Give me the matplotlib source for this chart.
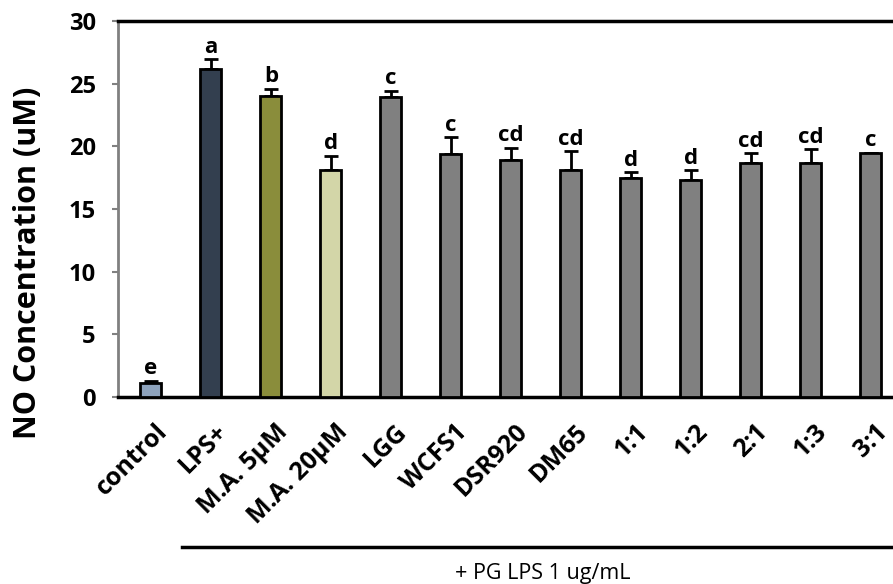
import numpy as np
import matplotlib.pyplot as plt
from matplotlib.transforms import ScaledTranslation

plt.rcParams['font.family'] = ['Open Sans', 'DejaVu Sans']

# data
groups = ["control", "LPS+", "M.A. 5\u03bcM", "M.A. 20\u03bcM", "LGG", "WCFS1", "DSR920",
          "DM65", "1:1", "1:2", "2:1", "1:3", "3:1"]
no_conc = [1.1, 26.15, 24.0, 18.1, 23.9, 19.35, 18.9, 18.1, 17.5, 17.3, 18.65, 18.7, 19.5]
sem = [0.2, 0.8, 0.6, 1.15, 0.55, 1.4, 1.0, 1.5, 0.45, 0.8, 0.8, 1.05, 0.0]
letters = ["e", "a", "b", "d", "c", "c", "cd", "cd", "d", "d", "cd", "cd", "c"]
colors = ["#8ea3bd", "#333f4f", "#8a8d3b", "#d3d6a8"] + ["#808080"] * 9

fig = plt.figure(figsize=(8.93, 5.84), dpi=100)
ax = fig.add_axes([118 / 893, 1 - 397 / 584, 1 - 118 / 893, (397 - 21) / 584])

x = np.arange(len(groups))
ax.bar(x, no_conc, width=0.35, color=colors, edgecolor="black", linewidth=2, zorder=3)
ax.errorbar(x, no_conc, yerr=[np.zeros(len(sem)), sem], fmt="none", ecolor="black",
            elinewidth=2, capsize=5, capthick=2, zorder=2)

for xi, v, s, l in zip(x, no_conc, sem, letters):
    ax.text(xi, v + s + 0.1, l, ha="center", va="bottom", fontsize=16, fontweight="bold")

ax.set_xlim(-0.55, 12.37)
ax.set_ylim(0, 30)
ax.set_yticks(range(0, 31, 5))
ax.tick_params(axis="y", labelsize=17, length=4, width=1.5, color="#808080", pad=12)
for t in ax.get_yticklabels():
    t.set_fontweight("bold")
ax.set_xticks(x)
ax.set_xticklabels(groups, rotation=45, ha="right", rotation_mode="anchor",
                   fontsize=18, fontweight="bold")
ax.tick_params(axis="x", length=0, pad=16)
shift = ScaledTranslation(0.04, 0, fig.dpi_scale_trans)
for t in ax.get_xticklabels():
    t.set_transform(t.get_transform() + shift)
ax.set_ylabel("NO Concentration (uM)", fontsize=22, fontweight="bold", va="center")
ax.yaxis.set_label_coords(-0.116, 0.357)

ax.spines["right"].set_visible(False)
ax.spines["top"].set_linewidth(2.5)
ax.spines["bottom"].set_linewidth(2.5)
ax.spines["left"].set_color("#808080")
ax.spines["left"].set_linewidth(2)

fig.add_artist(plt.Line2D([182 / 893, 1.0], [1 - 547 / 584] * 2, color="black", lw=2.5))
fig.text(543 / 893, 1 - 573 / 584, "+ PG LPS 1 ug/mL", ha="center", va="center", fontsize=15.5)

fig.savefig("out.png", dpi=100)
